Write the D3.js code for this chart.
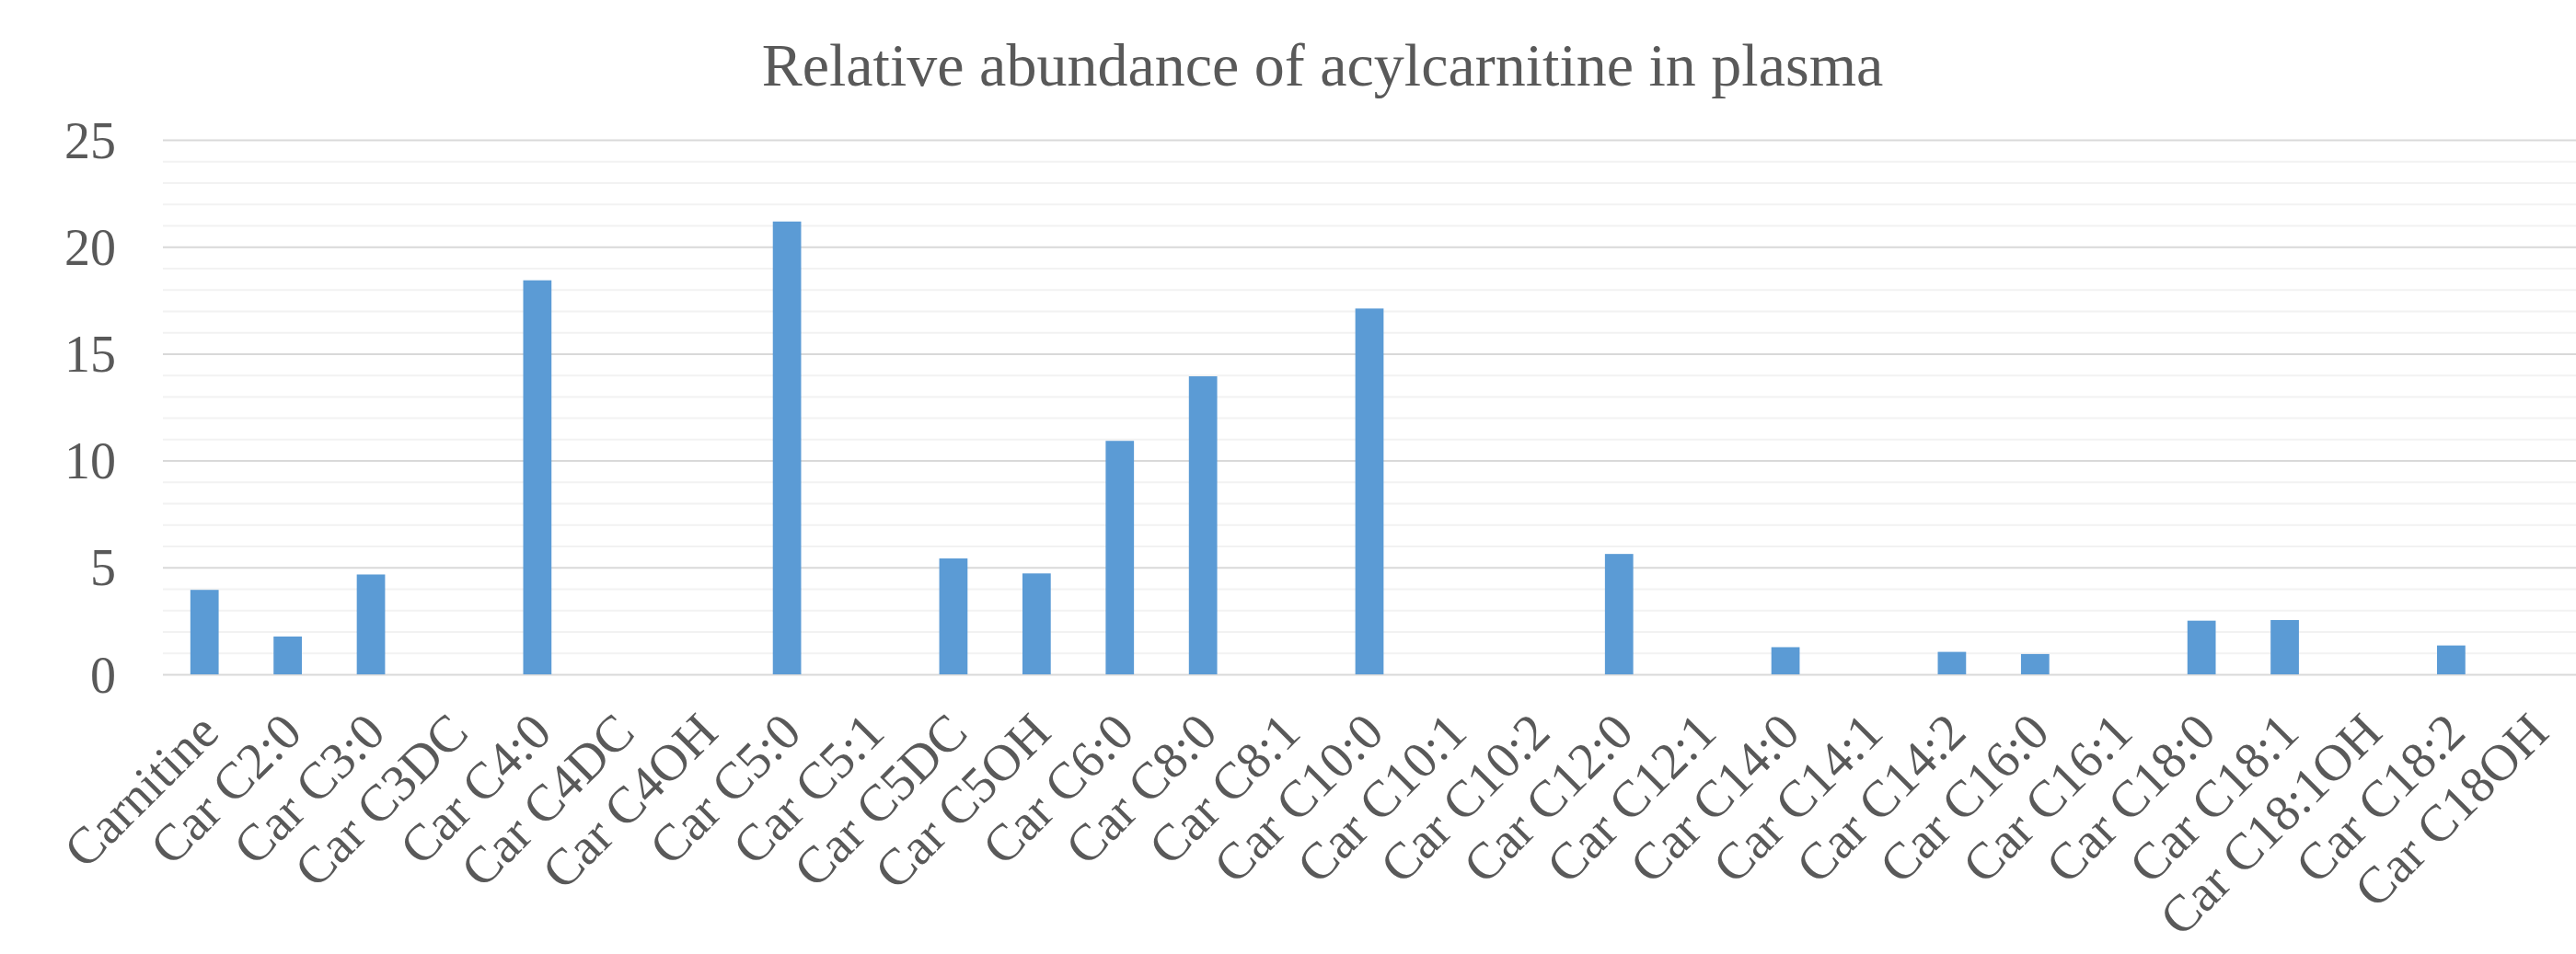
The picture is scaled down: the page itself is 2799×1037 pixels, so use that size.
<!DOCTYPE html>
<html lang="en">
  <head>
    <meta charset="utf-8">
    <title>Relative abundance of acylcarnitine in plasma</title>
    <style>
      body { margin: 0; background: #fff; }
      svg { display: block; background: #fff; }
      text { font-family: 'Liberation Serif', 'DejaVu Serif', serif; fill: #595959; }
      .title { font-size: 66px; }
      .yaxis text { font-size: 56px; }
      .xaxis text { font-size: 56px; }
    </style>
  </head>
  <body>
    <div id="viz"></div>
    <script src="https://d3js.org/d3.v7.min.js"></script>
    <script>
      // categories and values (null = no bar)
      const categories = ["Carnitine", "Car C2:0", "Car C3:0", "Car C3DC", "Car C4:0", "Car C4DC", "Car C4OH",
        "Car C5:0", "Car C5:1", "Car C5DC", "Car C5OH", "Car C6:0", "Car C8:0", "Car C8:1", "Car C10:0",
        "Car C10:1", "Car C10:2", "Car C12:0", "Car C12:1", "Car C14:0", "Car C14:1", "Car C14:2",
        "Car C16:0", "Car C16:1", "Car C18:0", "Car C18:1", "Car C18:1OH", "Car C18:2", "Car C18OH"];
      const values = [3.95, 1.77, 4.67, null, 18.43, null, null,
        21.18, null, 5.42, 4.72, 10.92, 13.94, null, 17.11,
        null, null, 5.63, null, 1.27, null, 1.05,
        0.95, null, 2.51, 2.54, null, 1.35, null];
      const majorTicks = [0, 5, 10, 15, 20, 25];
      const minorTicks = d3.range(0, 26, 1);

      const width = 2799, height = 1037;
      const margin = { top: 152, right: 0, bottom: 304, left: 177 };

      const svg = d3.select("#viz")
        .append("svg")
        .attr("width", width)
        .attr("height", height);

      const x = d3.scaleBand()
        .domain(categories)
        .range([margin.left, width - margin.right])
        .paddingInner(0.66)
        .paddingOuter(0.33);

      const y = d3.scaleLinear()
        .domain([0, 25])
        .range([height - margin.bottom, margin.top]);

      // minor gridlines
      svg.append("g")
        .attr("transform", `translate(${margin.left},0)`)
        .call(d3.axisLeft(y).tickValues(minorTicks.filter(d => d % 5 !== 0))
          .tickSize(-(width - margin.left - margin.right)).tickFormat(""))
        .call(g => g.select(".domain").remove())
        .call(g => g.selectAll(".tick line").attr("stroke", "#f2f2f2").attr("stroke-width", 2));

      // major gridlines + labels
      svg.append("g")
        .attr("class", "yaxis")
        .attr("transform", `translate(${margin.left},0)`)
        .call(d3.axisLeft(y).tickValues(majorTicks)
          .tickSize(-(width - margin.left - margin.right)).tickPadding(51))
        .call(g => g.select(".domain").remove())
        .call(g => g.selectAll(".tick line").attr("stroke", "#d9d9d9").attr("stroke-width", 2))
        .call(g => g.selectAll(".tick text").attr("fill", "#595959").attr("dy", "0.34em"));

      // bars
      const rows = categories.map((c, i) => ({ name: c, value: values[i] }));
      svg.append("g")
        .selectAll("rect")
        .data(rows.filter(d => d.value != null))
        .join("rect")
        .attr("x", d => x(d.name))
        .attr("width", x.bandwidth())
        .attr("y", d => y(d.value))
        .attr("height", d => y(0) - y(d.value))
        .attr("fill", "#5b9bd5");

      // category axis
      svg.append("g")
        .attr("class", "xaxis")
        .attr("transform", `translate(0,${y(0)})`)
        .call(d3.axisBottom(x).tickSize(0).tickFormat(d => d))
        .call(g => g.select(".domain").remove())
        .call(g => g.selectAll(".tick text")
          .attr("fill", "#595959")
          .attr("text-anchor", "end")
          .attr("y", 0)
          .attr("dy", 0)
          .attr("transform", "translate(18,66) rotate(-45)"));

      svg.append("text")
        .attr("class", "title")
        .attr("x", 1437)
        .attr("y", 93)
        .attr("text-anchor", "middle")
        .text("Relative abundance of acylcarnitine in plasma");
    </script>
  </body>
</html>
